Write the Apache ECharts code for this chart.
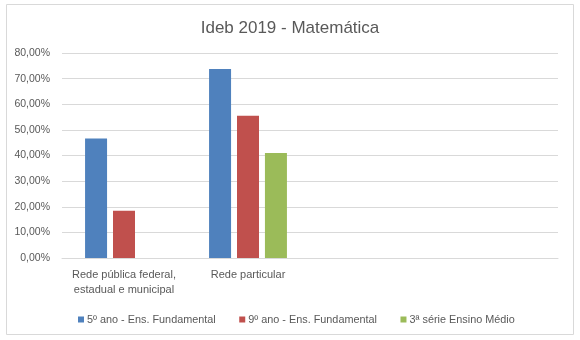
<!DOCTYPE html>
<html>
<head>
<meta charset="utf-8">
<script src="https://cdn.jsdelivr.net/npm/echarts@6/dist/echarts.min.js"></script>
<style>html,body{margin:0;padding:0;background:#fff}#c{width:580px;height:340px}</style>
</head>
<body>
<div id="c"></div>
<script>
const categories = ['Rede pública federal,\nestadual e municipal', 'Rede particular', '', ''];
const seriesNames = ['5º ano - Ens. Fundamental', '9º ano - Ens. Fundamental', '3ª série Ensino Médio'];
const quinto = [46.6, 73.8, '-', '-'];
const nono = [18.4, 55.5, '-', '-'];
const terceira = ['-', 41.0, '-', '-'];
const yTicks = {min: 0, max: 80, interval: 10};
const colors = ['#4F81BD', '#C0504D', '#9BBB59'];

const chart = echarts.init(document.getElementById('c'), null, {renderer: 'canvas'});
const font = 'Liberation Sans';
const mk = (name, data, i) => ({
  name, type: 'bar', data, barWidth: 22, barGap: '27%',
  itemStyle: {color: colors[i]}, silent: true
});
chart.setOption({
  animation: false,
  graphic: [{type: 'rect', shape: {x: 6.5, y: 4.5, width: 567, height: 330}, style: {fill: 'none', stroke: '#d9d9d9', lineWidth: 1}, silent: true}],
  title: {text: 'Ideb 2019 - Matemática', left: 'center', top: 15,
    textStyle: {fontFamily: font, fontSize: 17, fontWeight: 'normal', color: '#595959'}},
  legend: {left: 73, top: 309, icon: 'rect', itemWidth: 6, itemHeight: 6, itemGap: 23.5,
    textStyle: {fontFamily: font, fontSize: 10.85, color: '#595959', padding: [0,0,0,-2]},
    data: seriesNames},
  grid: {left: 62, right: 22, top: 53, bottom: 82, containLabel: false},
  xAxis: {type: 'category', data: categories,
    axisLine: {lineStyle: {color: '#d9d9d9'}}, axisTick: {show: false},
    axisLabel: {fontFamily: font, fontSize: 11, color: '#595959', margin: 9, lineHeight: 15, interval: 0}},
  yAxis: {type: 'value', min: yTicks.min, max: yTicks.max, interval: yTicks.interval,
    axisLine: {show: false}, axisTick: {show: false},
    splitLine: {lineStyle: {color: '#d9d9d9'}},
    axisLabel: {fontFamily: font, fontSize: 10.5, color: '#595959', margin: 12,
      formatter: v => v.toFixed(2).replace('.', ',') + '%'}},
  series: [mk(seriesNames[0], quinto, 0), mk(seriesNames[1], nono, 1), mk(seriesNames[2], terceira, 2)]
});
</script>
</body>
</html>
